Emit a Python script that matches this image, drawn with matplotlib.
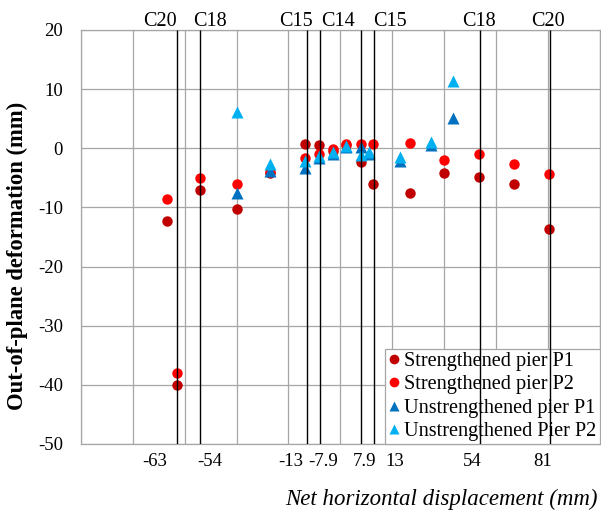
import numpy as np
import matplotlib
matplotlib.use('Agg')
import matplotlib.pyplot as plt
from matplotlib.lines import Line2D
import matplotlib.transforms as mtransforms

plt.rcParams['font.family'] = ['Liberation Serif', 'DejaVu Serif']
plt.rcParams['axes.unicode_minus'] = False

# 加固墙体 (圆点)
str_x = [-67, -63, -54, -40, -27, -13.5, -8.3, -2.8, 2.2, 8, 12.8, 27, 40, 53.5, 67, 80.6]
str_p1 = [-12.3, -40.1, -7.1, -10.3, -4.2, 0.7, 0.6, -0.4, 0.6, -2.3, -6.1, -7.6, -4.1, -4.8, -6.1, -13.6]
str_p2 = [-8.6, -38.0, -5.1, -6.1, -4.0, -1.7, -0.9, -0.2, 0.8, 0.8, 0.8, 0.9, -2.05, -1.0, -2.7, -4.4]

# 未加固墙体 (三角)
uns_x = [-40, -27, -13.5, -8.3, -2.8, 2.2, 8, 11, 23, 35, 43.5]
uns_p1 = [-7.6, -3.9, -3.3, -1.7, -0.9, 0.2, 0.2, -1.0, -2.1, 0.5, 5.2]
uns_p2 = [6.1, -2.7, -2.2, -1.3, -0.6, 0.4, -1.2, -0.7, -1.4, 1.1, 11.4]

# 循环位移标记线
cycle_disp = [-63, -54, -13, -7.9, 7.9, 13, 54, 81]
cycle_tick_text = ['-63', '-54', '-13', '-7.9', '7.9', '13', '54', '81']
cycle_tick_pos = [-71.5, -50.4, -19.2, -6.7, 9.2, 21, 51.1, 78.2]

cycle_names = ['C20', 'C18', 'C15', 'C14', 'C15', 'C18', 'C20']
cycle_name_pos = [-69.7, -50.4, -17, -0.9, 19.1, 53.6, 80.3]

W, H = 601, 516
fig = plt.figure(figsize=(W / 100, H / 100), dpi=100)
ax = fig.add_axes([81 / W, (H - 444) / H, (599.5 - 81) / W, (444 - 30) / H])

grid_col = '#a6a6a6'
ax.set_xlim(-100, 100)
ax.set_ylim(-50, 20)
ax.set_yticks(np.arange(-50, 21, 10))
ax.set_xticks(np.arange(-100, 101, 20), minor=True)
ax.set_xticks(cycle_tick_pos)
ax.set_xticklabels(cycle_tick_text)
ax.grid(which='major', axis='y', color=grid_col, lw=0.9)
ax.grid(which='minor', axis='x', color=grid_col, lw=0.9)
ax.set_axisbelow(True)
ax.tick_params(which='both', length=0)
ax.tick_params(axis='x', labelsize=13.5, pad=6.5)
ax.tick_params(axis='y', labelsize=13.5, pad=13)
for sp in ax.spines.values():
    sp.set_color(grid_col)
    sp.set_linewidth(0.9)

c_sp1, c_sp2 = '#c00000', '#ff0000'
c_up1, c_up2 = '#0070c0', '#00b0f0'
ax.plot(str_x, str_p1, 'o', ms=7.5, color=c_sp1, mec='none', zorder=3)
ax.plot(str_x, str_p2, 'o', ms=7.5, color=c_sp2, mec='none', zorder=3)
ax.plot(uns_x, uns_p1, '^', ms=8.5, color=c_up1, mec='none', zorder=3)
ax.plot(uns_x, uns_p2, '^', ms=8.5, color=c_up2, mec='none', zorder=3)

handles = [
    Line2D([], [], ls='none', marker='o', ms=7, color=c_sp1, mec='none'),
    Line2D([], [], ls='none', marker='o', ms=7, color=c_sp2, mec='none'),
    Line2D([], [], ls='none', marker='^', ms=7.5, color=c_up1, mec='none'),
    Line2D([], [], ls='none', marker='^', ms=7.5, color=c_up2, mec='none'),
]
labels = ['Strengthened pier P1', 'Strengthened pier P2',
          'Unstrengthened pier P1', 'Unstrengthened Pier P2']
leg = ax.legend(handles, labels, loc='lower right', bbox_to_anchor=(1, 0),
                borderaxespad=0, fontsize=14.6, frameon=True, fancybox=False,
                framealpha=1, edgecolor=grid_col, handlelength=0.6,
                handletextpad=0.2, labelspacing=0.2, borderpad=0.15)
leg.get_frame().set_linewidth(0.9)

# 黑色竖线画在图例之上
ax.vlines(cycle_disp, -50, 20, colors='black', lw=1.0, zorder=6)

trans = mtransforms.offset_copy(ax.transData, fig=fig, x=0, y=4, units='dots')
for name, xp in zip(cycle_names, cycle_name_pos):
    ax.text(xp, 20, name, transform=trans, ha='center', va='baseline',
            fontsize=14.5, clip_on=False)

fig.text(17 / W, (H - 255.7) / H, 'Out-of-plane deformation (mm)', rotation=90,
         ha='center', va='center', fontsize=16.3, fontweight='bold')
fig.text(598 / W, 11 / H, 'Net horizontal displacement (mm)', ha='right',
         va='baseline', fontsize=16.5, fontstyle='italic')

fig.savefig('out.png', dpi=100, facecolor='white')
